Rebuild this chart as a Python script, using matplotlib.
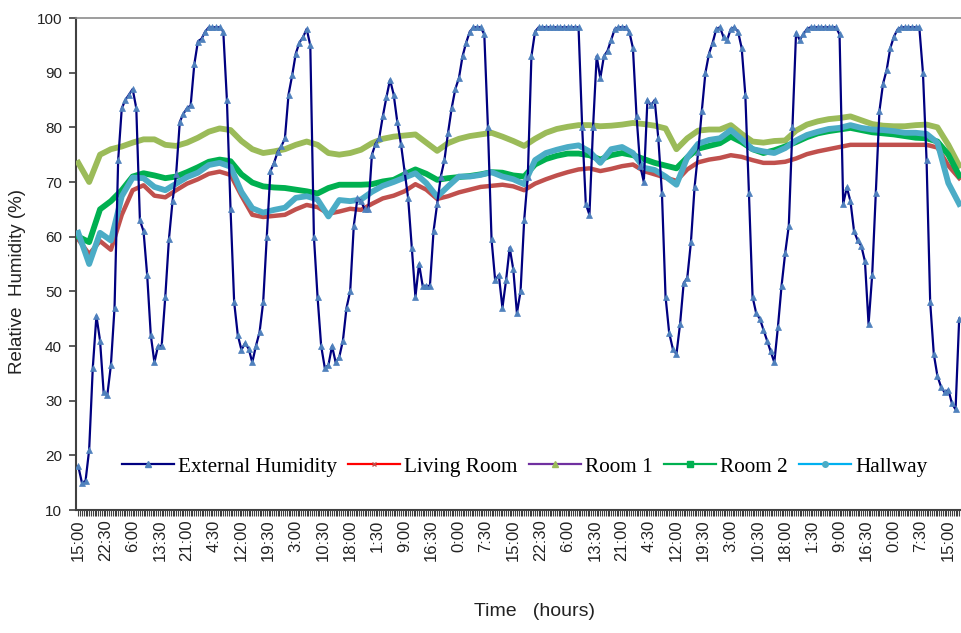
import numpy as np
import matplotlib.pyplot as plt
from matplotlib.lines import Line2D

# sampling grids (hours after the first reading, 15:00)
ext_hours = np.arange(0, 244)
room_hours = np.arange(0, 244, 3)

external = [
    18, 15, 15.3, 21, 36, 45.5, 41, 31.5, 31, 36.5,
    47, 74, 83.5, 85, 86, 87, 83.5, 63, 61, 53,
    42, 37, 40, 40, 49, 59.5, 66.5, 71.5, 81, 82.5,
    83.5, 84, 91.5, 95.7, 96.2, 97.5, 98.3, 98.3, 98.3, 98.3,
    97.5, 85, 65, 48, 42, 39.3, 40.5, 39.5, 37, 40,
    42.5, 48, 60, 72, 73.5, 75.5, 76.5, 78, 86, 89.5,
    93.5, 95.5, 96.5, 98, 95, 60, 49, 40, 36, 36.5,
    40, 37, 38, 41, 47, 50, 62, 67, 66.5, 65,
    65, 75, 77, 78, 82, 85.5, 88.7, 86, 81, 77,
    72, 67, 58, 49, 55, 51, 51, 51, 61, 66,
    71, 74, 79, 83.5, 87, 89, 93, 95.5, 97.5, 98.3,
    98.3, 98.3, 97, 80, 59.5, 52, 53, 47, 52, 58,
    54, 46, 50, 63, 71, 93, 97.5, 98.3, 98.3, 98.3,
    98.3, 98.3, 98.3, 98.3, 98.3, 98.3, 98.3, 98.3, 98.3, 80,
    66, 64, 80, 93, 89, 93, 94, 96, 98, 98.3,
    98.3, 98.3, 97.5, 94.5, 82, 73, 70, 85, 84, 85,
    78, 68, 49, 42.4, 39.5, 38.5, 44, 51.5, 52.5, 59,
    69, 75.5, 83, 90, 93.5, 95.5, 98, 98.3, 96.5, 96,
    98, 98.3, 97.5, 94.5, 86, 68, 49, 46, 45, 43,
    41, 39, 37, 43.5, 51, 57, 62, 80, 97.3, 96,
    97, 98, 98.3, 98.3, 98.3, 98.3, 98.3, 98.3, 98.3, 98.3,
    97, 66, 69, 66.5, 61, 59.3, 58.3, 55.5, 44, 53,
    68, 83, 88, 90.5, 94.5, 96.6, 97.9, 98.3, 98.3, 98.3,
    98.3, 98.3, 98.3, 90, 74, 48, 38.5, 34.5, 32.5, 31.5,
    32, 29.5, 28.4, 45,
]

living_room = [
    59.5, 56.8, 59.2, 57.6, 64, 68.5, 69.4, 67.5, 67.2, 68.5,
    69.7, 70.5, 71.5, 71.9, 71.3, 67.5, 64, 63.6, 63.8, 64,
    65, 65.8, 65.4, 64.2, 64.6, 65.1, 64.9, 66, 67, 67.5,
    68.3, 69.6, 68.6, 66.9, 67.4, 68.1, 68.6, 69.1, 69.3, 69.5,
    69.2, 68.5, 69.7, 70.5, 71.2, 71.8, 72.3, 72.5, 72, 72.4,
    72.9, 73.2, 72, 71.4, 70.8, 70.2, 72.3, 73.6, 74.1, 74.4,
    74.9, 74.6, 74, 73.5, 73.5, 73.7, 74.3, 75.1, 75.6, 76,
    76.4, 76.8, 76.8, 76.8, 76.8, 76.8, 76.8, 76.8, 76.8, 76.3,
    73, 70.7,
]

room_1 = [
    73.5, 70, 75, 76, 76.5, 77.2, 77.8, 77.8, 76.8, 76.6,
    77.2, 78.1, 79.2, 79.8, 79.5, 77.5, 76, 75.3, 75.6, 76,
    76.8, 77.4, 76.8, 75.3, 75, 75.3, 75.9, 77.1, 77.9, 78.3,
    78.5, 78.7, 77.2, 75.7, 77.1, 77.9, 78.4, 78.7, 79, 78.3,
    77.5, 76.6, 77.9, 79, 79.7, 80.1, 80.4, 80.4, 80.2, 80.3,
    80.5, 80.8, 80.6, 80.3, 79.8, 76, 78, 79.4, 79.6, 79.6,
    80.4, 78.8, 77.4, 77.2, 77.5, 77.6, 79.4, 80.5, 81.1, 81.5,
    81.7, 82, 81.3, 80.6, 80.3, 80.2, 80.2, 80.4, 80.5, 80,
    76.8, 73,
]

room_2 = [
    60, 59, 65, 66.5, 68.5, 71, 71.6, 71.2, 70.7, 71,
    71.8, 72.7, 73.7, 74.1, 73.8, 71.4, 69.9, 69.2, 69, 68.9,
    68.6, 68.3, 67.9, 68.9, 69.5, 69.5, 69.5, 69.6, 70.1, 70.4,
    71.4, 72.3, 71.5, 70.4, 70.7, 70.9, 71.1, 71.4, 71.8, 71.7,
    71.2, 71, 73.2, 74.2, 74.8, 75.2, 75.2, 74.9, 74.1, 74.9,
    75.3, 74.9, 74.2, 73.5, 73, 72.5, 74.5, 76.1, 76.6, 77.1,
    78.3, 77.3, 76, 75.3, 75.8, 76.5, 77.3, 78.2, 78.9, 79.3,
    79.6, 79.9, 79.5, 79.1, 78.9, 78.7, 78.4, 78.1, 78, 77.4,
    75, 71.2,
]

hallway = [
    60.7, 55, 60.7, 59.3, 67.4, 70.8, 70.7, 69.1, 68.5, 69.7,
    70.9, 71.7, 73.1, 73.5, 72.8, 68.2, 65.2, 64.4, 64.9, 65.3,
    67.1, 67.4, 66.8, 63.7, 66.7, 66.5, 66.8, 68.2, 69.3, 70,
    70.8, 71.6, 69.8, 67.3, 69.2, 71, 71, 71.3, 71.8, 71,
    70.5, 69.6, 74, 75.3, 75.9, 76.4, 76.7, 75.6, 73.5, 76,
    76.4, 75.3, 72.6, 72.2, 71, 69.5, 74.5, 77, 77.7, 78,
    79.5, 77.8, 76, 75.6, 75.3, 76.2, 77.6, 78.6, 79.2, 79.7,
    79.9, 80.4, 79.9, 79.6, 79.5, 79.3, 79, 79, 78.8, 77.2,
    69.8, 66,
]

tick_hours = np.arange(0, 241, 7.5)
tick_labels = ['15:00', '22:30', '6:00', '13:30', '21:00', '4:30', '12:00', '19:30',
               '3:00', '10:30', '18:00', '1:30', '9:00', '16:30', '0:00', '7:30',
               '15:00', '22:30', '6:00', '13:30', '21:00', '4:30', '12:00', '19:30',
               '3:00', '10:30', '18:00', '1:30', '9:00', '16:30', '0:00', '7:30',
               '15:00']

plt.rcParams['font.family'] = ['Liberation Sans', 'DejaVu Sans']

fig = plt.figure(figsize=(9.61, 6.33), dpi=100)
ax = fig.add_axes([76 / 961, 1 - 510 / 633, 885 / 961, 492 / 633])

ax.plot(room_hours, living_room, color='#C0504D', lw=3.2, zorder=2)
ax.plot(room_hours, room_1, color='#9BBB59', lw=4.2, zorder=3)
ax.plot(room_hours, room_2, color='#00B050', lw=4.2, zorder=4)
ax.plot(room_hours, hallway, color='#4BACC6', lw=4.2, zorder=5)
ax.plot(ext_hours, external, color='#000080', lw=1.6, marker='^', ms=5,
        mfc='#4F81BD', mec='#4F81BD', mew=0.5, zorder=6)

ax.set_xlim(-0.63, 243.5)
ax.set_ylim(10, 100)
ax.set_yticks(range(10, 101, 10))
ax.set_xticks(tick_hours)
ax.set_xticklabels(tick_labels, rotation=90)
ax.set_xticks(np.arange(0, 243.5, 0.5), minor=True)

ax.tick_params(axis='x', which='both', direction='out', length=4, width=0.8,
               color='#404040', labelsize=12, pad=3, labelcolor='#222222')
ax.tick_params(axis='y', direction='out', length=5, width=1.2, color='#404040',
               labelsize=11, pad=5, labelcolor='#222222')

ax.spines['right'].set_visible(False)
ax.spines['top'].set_color('#8c8c8c')
ax.spines['top'].set_linewidth(1.2)
for side in ['left', 'bottom']:
    ax.spines[side].set_color('#404040')
    ax.spines[side].set_linewidth(1.5)

fig.text(18 / 961, 1 - 281 / 633, 'Relative  Humidity (%)', rotation=90,
         ha='center', va='center', fontsize=13.5, color='#222222')
fig.text(534 / 961, 1 - 612 / 633, 'Time   (hours)', ha='center', va='center',
         fontsize=14, color='#222222')

handles = [
    Line2D([], [], color='#000080', lw=1.6, marker='^', ms=5, mfc='#4F81BD', mec='#4F81BD'),
    Line2D([], [], color='#FF0000', lw=1.6, marker='x', ms=3.5, mec='#C0504D', mew=1),
    Line2D([], [], color='#7030A0', lw=1.6, marker='^', ms=5, mfc='#9BBB59', mec='#9BBB59'),
    Line2D([], [], color='#00B050', lw=1.6, marker='s', ms=4, mfc='#00B050', mec='#00B050'),
    Line2D([], [], color='#00B0F0', lw=1.6, marker='o', ms=4, mfc='#4BACC6', mec='#4BACC6'),
]
names = ['External Humidity', 'Living Room', 'Room 1', 'Room 2', 'Hallway']
ax.legend(handles, names, loc='center', bbox_to_anchor=(0.507, 0.0875), ncol=5,
          frameon=False, prop={'family': 'Liberation Serif', 'size': 15.3},
          handlelength=2.45, handletextpad=0.2, columnspacing=0.52)

plt.savefig('out.png', dpi=100)
plt.close()
